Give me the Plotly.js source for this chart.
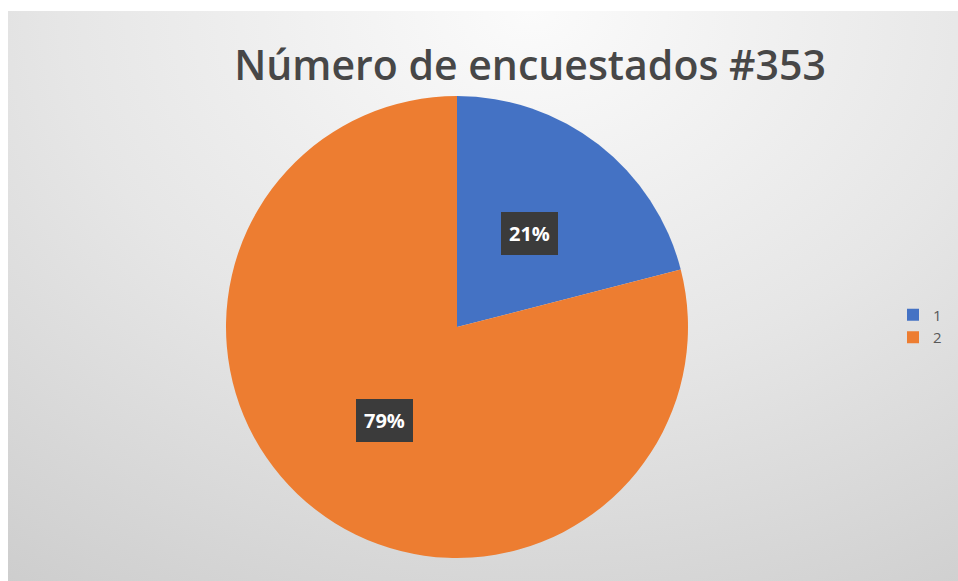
<!DOCTYPE html>
<html>
<head>
<meta charset="utf-8">
<script src="https://cdn.plot.ly/plotly-3.0.1.min.js"></script>
<style>
  html, body { margin: 0; padding: 0; background: #ffffff; }
  #bg { position: absolute; left: 8px; top: 11px; width: 950px; height: 570px;
        background: radial-gradient(ellipse 110% 140% at 55% 0%, #fbfbfb 0%, #e6e6e6 45%, #c6c6c6 100%); }
  #chart { position: absolute; left: 0; top: 0; width: 958px; height: 581px; }
</style>
</head>
<body>
<div id="bg"></div>
<div id="chart"></div>
<script>
const categories = ["1", "2"];
const values = [21, 79];
const colors = ["#4472C4", "#ED7D31"];
const titleText = "Número de encuestados #353";

const W = 958, H = 581;
// pie geometry in pixels
const cx = 457, cy = 327, r = 231;
const domain = {
  x: [(cx - r) / W, (cx + r) / W],
  y: [1 - (cy + r) / H, 1 - (cy - r) / H]
};

// label annotations positioned from the data (mid-angle of each slice)
const total = values.reduce((a, b) => a + b, 0);
let acc = 0;
const annotations = values.map((v, i) => {
  const mid = (acc + v / 2) / total * 2 * Math.PI;
  acc += v;
  const px = cx + 0.51 * r * Math.sin(mid);
  const py = cy - 0.51 * r * Math.cos(mid);
  return {
    x: px / W, y: 1 - py / H, xref: "paper", yref: "paper",
    xanchor: "center", yanchor: "middle",
    text: "<b>" + Math.round(v / total * 100) + "%</b>",
    showarrow: false,
    font: { family: "Open Sans, sans-serif", size: 20, color: "#ffffff" },
    bgcolor: "#3b3b3b", borderpad: 8, borderwidth: 0
  };
});

const data = [{
  type: "pie",
  labels: categories,
  values: values,
  marker: { colors: colors, line: { width: 0 } },
  sort: false,
  direction: "clockwise",
  rotation: 0,
  textinfo: "none",
  hoverinfo: "label+percent",
  domain: domain
}];

const layout = {
  width: W, height: H,
  margin: { l: 0, r: 0, t: 0, b: 0 },
  paper_bgcolor: "rgba(0,0,0,0)",
  plot_bgcolor: "rgba(0,0,0,0)",
  title: {
    text: titleText,
    x: 530 / W, xanchor: "center",
    y: 1 - 66 / H, yanchor: "middle",
    font: { family: "Open Sans, sans-serif", size: 41, color: "#474747", weight: 600 }
  },
  showlegend: true,
  legend: {
    x: 893 / W, xanchor: "left",
    y: 1 - 326 / H, yanchor: "middle",
    bgcolor: "rgba(0,0,0,0)",
    font: { family: "Open Sans, sans-serif", size: 15, color: "#595959" },
    itemwidth: 30,
    tracegroupgap: 0
  },
  annotations: annotations
};

Plotly.newPlot("chart", data, layout, { displayModeBar: false, staticPlot: true });
</script>
</body>
</html>
